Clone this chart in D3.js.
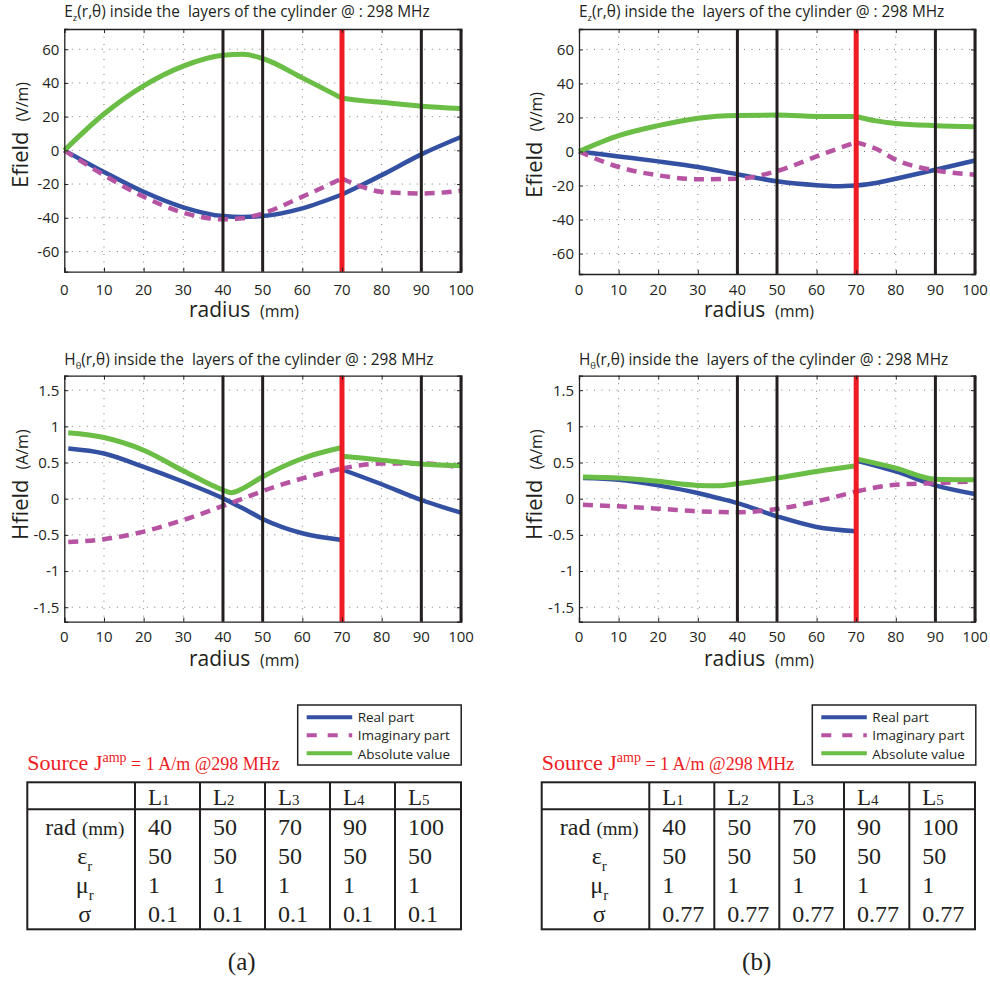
<!DOCTYPE html>
<html>
<head>
<meta charset="utf-8">
<script src="https://cdn.jsdelivr.net/npm/d3@7"></script>
<style>
  html, body { margin: 0; padding: 0; background: #fff; }
  svg text { white-space: pre; }
</style>
</head>
<body>
<svg id="fig" width="990" height="983"></svg>
<script>
// ---- Layer description (shared by both cases) ----
const layerNames = ["1", "2", "3", "4", "5"];
const layerRadius = [40, 50, 70, 90, 100];
const epsR = [50, 50, 50, 50, 50];
const muR = [1, 1, 1, 1, 1];
const sigmaA = ["0.1", "0.1", "0.1", "0.1", "0.1"];
const sigmaB = ["0.77", "0.77", "0.77", "0.77", "0.77"];
const sourceRadius = 70;

// ---- Axis ticks ----
const radiusTicks = [0, 10, 20, 30, 40, 50, 60, 70, 80, 90, 100];
const eTicks = [-60, -40, -20, 0, 20, 40, 60];
const hTicks = [-1.5, -1, -0.5, 0, 0.5, 1, 1.5];
const hTickLabels = ["-1.5", "-1", "-0.5", "0", "0.5", "1", "1.5"];

// ---- Case (a): sigma = 0.1, Ez ----
const rEaIn = [0, 10, 20, 30, 40, 45, 50, 60, 70];
const ezAbsAIn = [0, 21.6, 38.3, 50, 56.4, 57, 54.5, 43, 30.9];
const ezReAIn = [0, -12.8, -24.6, -33.8, -39, -39.5, -39, -34.4, -26.2];
const ezImAIn = [0, -14.7, -27.5, -37, -40.9, -40.3, -37.4, -27.5, -16.7];
const rEaOut = [70, 75, 80, 90, 100];
const ezAbsAOut = [30.9, 29.5, 28.5, 26.2, 24.8];
const ezReAOut = [-26.2, -20.6, -14.7, -2.4, 7.9];
const ezImAOut = [-16.7, -21.6, -24.6, -25.6, -24];

// ---- Case (b): sigma = 0.77, Ez ----
const rEbIn = [0, 10, 20, 30, 40, 50, 60, 65, 70];
const ezAbsBIn = [0, 9.3, 15.2, 19.6, 21.2, 21.4, 20.6, 20.5, 20.6];
const ezReBIn = [0, -2.9, -5.8, -9.1, -13.4, -17.5, -19.8, -20.4, -20];
const ezImBIn = [0, -9.1, -14, -16.3, -16, -11.5, -2.9, 1.4, 5.4];
const rEbOut = [70, 75, 80, 90, 100];
const ezAbsBOut = [20.6, 18, 16.5, 15.2, 14.6];
const ezReBOut = [-20, -18.5, -16, -10.7, -5.3];
const ezImBOut = [5.4, 1.6, -4.9, -11.1, -13.6];

// ---- Case (a): Htheta ----
const rHaIn = [1, 10, 20, 30, 40, 42, 45, 50, 60, 70];
const hAbsAIn = [0.91, 0.845, 0.67, 0.386, 0.12, 0.083, 0.142, 0.303, 0.556, 0.707];
const hReAIn = [0.694, 0.625, 0.44, 0.234, 0.005, -0.05, -0.133, -0.28, -0.478, -0.57];
const hImAIn = [-0.597, -0.56, -0.455, -0.294, -0.1, -0.06, 0.0, 0.106, 0.28, 0.418];
const rHaOut = [70, 80, 90, 100];
const hAbsAOut = [0.588, 0.533, 0.478, 0.455];
const hReAOut = [0.404, 0.2, -0.018, -0.193];
const hImAOut = [0.418, 0.487, 0.487, 0.43];

// ---- Case (b): Htheta ----
const rHbIn = [1, 10, 20, 30, 35, 40, 50, 60, 70];
const hAbsBIn = [0.3, 0.285, 0.24, 0.184, 0.18, 0.207, 0.285, 0.377, 0.455];
const hReBIn = [0.285, 0.262, 0.184, 0.078, 0.01, -0.06, -0.243, -0.39, -0.45];
const hImBIn = [-0.083, -0.106, -0.138, -0.175, -0.183, -0.188, -0.142, -0.037, 0.1];
const rHbOut = [70, 80, 90, 100];
const hAbsBOut = [0.55, 0.423, 0.27, 0.262];
const hReBOut = [0.528, 0.377, 0.184, 0.064];
const hImBOut = [0.1, 0.193, 0.216, 0.24];

const seriesNames = ["Real part", "Imaginary part", "Absolute value"];

// ---- Styling ----
const C_RE = "#3450a2", C_IM = "#b653a3", C_ABS = "#6abd45", C_SRC = "#ed1c24", C_LAY = "#231f20";
const SANS = "'Open Sans', 'Noto Sans', sans-serif";
const SERIF = "'Liberation Serif', 'DejaVu Serif', serif";

const svg = d3.select("#fig");

function zip(rs, vs) { return rs.map((r, i) => [r, vs[i]]); }

function panel(cfg) {
  const x = d3.scaleLinear().domain([0, 100]).range([cfg.left, cfg.right]);
  const y = d3.scaleLinear().domain(cfg.ydom).range([cfg.bottom, cfg.top]);
  const g = svg.append("g");

  // dotted grid
  const grid = g.append("g").attr("stroke", "#7a7a7a").attr("stroke-width", 1).attr("stroke-dasharray", "1,6.5");
  grid.selectAll("line.gx").data(radiusTicks.slice(1, -1)).join("line")
    .attr("x1", d => x(d)).attr("x2", d => x(d)).attr("y1", cfg.top).attr("y2", cfg.bottom);
  grid.selectAll("line.gy").data(cfg.ticks).join("line")
    .attr("x1", cfg.left).attr("x2", cfg.right).attr("y1", d => y(d)).attr("y2", d => y(d));

  // curves
  const line = d3.line().x(d => x(d[0])).y(d => y(d[1])).curve(d3.curveMonotoneX);
  const cg = g.append("g").attr("fill", "none").attr("stroke-linejoin", "round");
  cfg.series.forEach(s => {
    cg.append("path").attr("d", line(s.pts)).attr("stroke", s.color)
      .attr("stroke-width", s.w).attr("stroke-dasharray", s.dash || null);
  });

  // layer boundaries and source position
  g.selectAll("line.lay").data(layerRadius).join("line")
    .attr("x1", d => x(d)).attr("x2", d => x(d)).attr("y1", cfg.top).attr("y2", cfg.bottom)
    .attr("stroke", d => d === sourceRadius ? C_SRC : C_LAY)
    .attr("stroke-width", d => d === sourceRadius ? 5 : 3);

  // frame with inward ticks
  const xAxB = d3.axisBottom(x).tickValues(radiusTicks).tickSize(-4).tickFormat("");
  const xAxT = d3.axisTop(x).tickValues(radiusTicks).tickSize(-4).tickFormat("");
  const yAxL = d3.axisLeft(y).tickValues(cfg.ticks).tickSize(-4).tickFormat("");
  const yAxR = d3.axisRight(y).tickValues(cfg.ticks).tickSize(-4).tickFormat("");
  [[xAxB, `translate(0,${cfg.bottom})`], [xAxT, `translate(0,${cfg.top})`],
   [yAxL, `translate(${cfg.left},0)`], [yAxR, `translate(${cfg.right},0)`]].forEach(([ax, tr]) => {
    const a = g.append("g").attr("transform", tr).call(ax);
    a.selectAll("path.domain").attr("stroke", "#231f20").attr("stroke-width", 1.3);
    a.selectAll(".tick line").attr("stroke", "#231f20");
  });

  // tick labels
  g.append("g").selectAll("text").data(radiusTicks).join("text")
    .attr("x", d => x(d)).attr("y", cfg.xLabelY).attr("text-anchor", "middle")
    .attr("font-family", SANS).attr("font-size", 15).attr("fill", "#231f20").text(d => d);
  g.append("g").selectAll("text").data(cfg.ticks).join("text")
    .attr("x", cfg.left - 5).attr("y", d => y(d)).attr("dy", "0.36em").attr("text-anchor", "end")
    .attr("font-family", SANS).attr("font-size", 15).attr("fill", "#231f20")
    .text((d, i) => cfg.tickText[i]);

  // axis titles
  const xt = g.append("text").attr("x", cfg.xTitleX).attr("y", cfg.xTitleY)
    .attr("font-family", SANS).attr("fill", "#231f20");
  xt.append("tspan").attr("font-size", 21).text("radius ");
  xt.append("tspan").attr("font-size", 16).text(" (mm)");
  const yt = g.append("text").attr("transform", `translate(${cfg.yTitleX},${cfg.yTitleY}) rotate(-90)`)
    .attr("font-family", SANS).attr("fill", "#231f20");
  yt.append("tspan").attr("font-size", 22).text(cfg.yName + " ");
  yt.append("tspan").attr("font-size", 16).text(" " + cfg.yUnit);

  // plot title
  const tt = g.append("text").attr("x", cfg.left).attr("y", cfg.titleY)
    .attr("font-family", SANS).attr("font-size", 15.4).attr("fill", "#231f20");
  tt.append("tspan").text(cfg.titleSym);
  tt.append("tspan").attr("font-size", 9.5).attr("dy", 4).text(cfg.titleSub);
  tt.append("tspan").attr("dy", -4).text("(r,\u03b8) inside the  layers of the cylinder @ : 298 MHz");
}

function seriesSet(rIn, reIn, imIn, absIn, rOut, reOut, imOut, absOut) {
  return [
    { pts: zip(rIn, reIn), color: C_RE, w: 4.5 },
    { pts: zip(rOut, reOut), color: C_RE, w: 4.5 },
    { pts: zip(rIn, imIn), color: C_IM, w: 4.5, dash: "10,7" },
    { pts: zip(rOut, imOut), color: C_IM, w: 4.5, dash: "10,7" },
    { pts: zip(rIn, absIn), color: C_ABS, w: 5 },
    { pts: zip(rOut, absOut), color: C_ABS, w: 5 }
  ];
}

const eTickText = eTicks.map(String);

panel({ left: 64.3, right: 461, top: 29, bottom: 271.7, ydom: [-72, 72], ticks: eTicks, tickText: eTickText,
  xLabelY: 295, xTitleX: 189, xTitleY: 317, yTitleX: 28, yTitleY: 188, yName: "Efield", yUnit: "(V/m)",
  titleY: 16.7, titleSym: "E", titleSub: "z",
  series: seriesSet(rEaIn, ezReAIn, ezImAIn, ezAbsAIn, rEaOut, ezReAOut, ezImAOut, ezAbsAOut) });

panel({ left: 579, right: 975, top: 29, bottom: 274, ydom: [-72, 72], ticks: eTicks, tickText: eTickText,
  xLabelY: 295, xTitleX: 704, xTitleY: 317, yTitleX: 542, yTitleY: 198, yName: "Efield", yUnit: "(V/m)",
  titleY: 16.7, titleSym: "E", titleSub: "z",
  series: seriesSet(rEbIn, ezReBIn, ezImBIn, ezAbsBIn, rEbOut, ezReBOut, ezImBOut, ezAbsBOut) });

panel({ left: 64.3, right: 461, top: 375.7, bottom: 621.7, ydom: [-1.7, 1.7], ticks: hTicks, tickText: hTickLabels,
  xLabelY: 641.7, xTitleX: 189, xTitleY: 665.5, yTitleX: 28, yTitleY: 540, yName: "Hfield", yUnit: "(A/m)",
  titleY: 365, titleSym: "H", titleSub: "\u03b8",
  series: seriesSet(rHaIn, hReAIn, hImAIn, hAbsAIn, rHaOut, hReAOut, hImAOut, hAbsAOut) });

panel({ left: 579, right: 975, top: 375.7, bottom: 621.7, ydom: [-1.7, 1.7], ticks: hTicks, tickText: hTickLabels,
  xLabelY: 641.7, xTitleX: 704, xTitleY: 665.5, yTitleX: 542, yTitleY: 540, yName: "Hfield", yUnit: "(A/m)",
  titleY: 365, titleSym: "H", titleSub: "\u03b8",
  series: seriesSet(rHbIn, hReBIn, hImBIn, hAbsBIn, rHbOut, hReBOut, hImBOut, hAbsBOut) });

// ---- Legend + source note + layer table for each case ----
function bottomBlock(cfg) {
  const g = svg.append("g");
  // legend
  const lx = cfg.legendX, ly = 705;
  g.append("rect").attr("x", lx).attr("y", ly).attr("width", 163.5).attr("height", 60)
    .attr("fill", "#fff").attr("stroke", "#231f20").attr("stroke-width", 1.5);
  const legStyles = [
    { color: C_RE, dash: null, w: 4 },
    { color: C_IM, dash: "10,11", w: 4 },
    { color: C_ABS, dash: null, w: 4 }
  ];
  const legY = [717.3, 735.3, 753.3];
  const legBase = [721.7, 740, 758.5];
  seriesNames.forEach((name, i) => {
    g.append("line").attr("x1", lx + 9).attr("x2", lx + 54.5).attr("y1", legY[i]).attr("y2", legY[i])
      .attr("stroke", legStyles[i].color).attr("stroke-width", legStyles[i].w)
      .attr("stroke-dasharray", legStyles[i].dash);
    g.append("text").attr("x", lx + 60).attr("y", legBase[i]).attr("font-family", SANS)
      .attr("font-size", 13.5).attr("fill", "#231f20").text(name);
  });

  // source note
  const st = g.append("text").attr("x", cfg.left).attr("y", 770).attr("font-family", SERIF).attr("fill", C_SRC);
  st.append("tspan").attr("font-size", 22).text("Source J");
  st.append("tspan").attr("font-size", 14).attr("dy", -8).text("amp");
  st.append("tspan").attr("font-size", 18).attr("dy", 8).text(" = 1 A/m @298 MHz");

  // table
  const top = 782.3, hdr = 809.3, bot = 929.3;
  const cols = cfg.cols; // column boundaries
  const tg = g.append("g").attr("stroke", "#231f20").attr("stroke-width", 2).attr("fill", "none");
  tg.append("rect").attr("x", cfg.left).attr("y", top).attr("width", cfg.right - cfg.left).attr("height", bot - top);
  tg.append("line").attr("x1", cfg.left).attr("x2", cfg.right).attr("y1", hdr).attr("y2", hdr);
  cols.forEach(cx => tg.append("line").attr("x1", cx).attr("x2", cx).attr("y1", top).attr("y2", bot));

  const txt = (x, y, anchor) => g.append("text").attr("x", x).attr("y", y)
    .attr("font-family", SERIF).attr("font-size", 24).attr("fill", "#231f20")
    .attr("text-anchor", anchor || "start");
  layerNames.forEach((n, i) => {
    const t = txt(cols[i] + 13, 805);
    t.append("tspan").attr("font-size", 23).text("L");
    t.append("tspan").attr("font-size", 15).text(n);
  });
  const rowY = [835, 864, 893.3, 922.3];
  const rows = [layerRadius, epsR, muR, cfg.sigma];
  rows.forEach((vals, r) => vals.forEach((v, i) => txt(cols[i] + 13, rowY[r]).text(v)));

  const labX = cfg.left + 57.5;
  const rl = txt(labX, rowY[0], "middle");
  rl.append("tspan").text("rad ");
  rl.append("tspan").attr("font-size", 19).text("(mm)");
  const el = txt(labX, rowY[1], "middle");
  el.append("tspan").text("\u03b5");
  el.append("tspan").attr("font-size", 15).attr("dy", 7).text("r");
  const ml = txt(labX, rowY[2], "middle");
  ml.append("tspan").text("\u03bc");
  ml.append("tspan").attr("font-size", 15).attr("dy", 7).text("r");
  txt(labX, rowY[3], "middle").text("\u03c3");

  // case caption
  txt(cfg.capX, 970, "middle").attr("font-size", 25).text(cfg.caption);
}

bottomBlock({ legendX: 297.7, left: 27.3, right: 461, cols: [135, 200, 265, 330, 395],
  sigma: sigmaA, capX: 241.7, caption: "(a)" });
bottomBlock({ legendX: 812.3, left: 541.7, right: 975, cols: [649.3, 714.3, 779.3, 844, 909.3],
  sigma: sigmaB, capX: 756.7, caption: "(b)" });
</script>
</body>
</html>
